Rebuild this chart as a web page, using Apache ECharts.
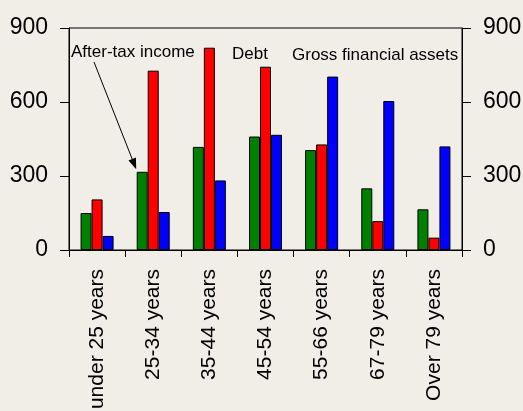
<!DOCTYPE html>
<html>
<head>
<meta charset="utf-8">
<script src="https://cdn.jsdelivr.net/npm/echarts@6/dist/echarts.min.js"></script>
<style>
html,body{margin:0;padding:0;background:#f1eee8;}
#c{width:523px;height:411px;}
</style>
</head>
<body>
<div id="c"></div>
<script>
var categories = ['under 25 years','25-34 years','35-44 years','45-54 years','55-66 years','67-79 years','Over 79 years'];
var afterTaxIncome = [150, 317, 418, 460, 405, 250, 165];
var debt = [205, 727, 820, 743, 428, 117, 50];
var grossFinancialAssets = [57, 154, 282, 467, 703, 604, 420];
var yTicks = [0, 300, 600, 900];

var FONT = '"Liberation Sans", Arial, sans-serif';
var chart = echarts.init(document.getElementById('c'), null, {renderer:'canvas'});

function yAxisDef(pos){
  return {
    type:'value', position:pos, min:yTicks[0], max:yTicks[yTicks.length-1], interval:300,
    axisLine:{show:true, lineStyle:{color:'#000', width:1}},
    axisTick:{show:true, length:9, lineStyle:{color:'#000'}},
    axisLabel:{show:true, margin:21, color:'#000', fontFamily:FONT, fontSize:23},
    splitLine:{show:false}
  };
}
function barSeries(name, data, color){
  return {
    name:name, type:'bar', data:data, barWidth:11, barGap:'0%',
    itemStyle:{color:color, borderColor:'#000', borderWidth:1},
    emphasis:{disabled:true}
  };
}

chart.setOption({
  animation:false,
  backgroundColor:'#f1eee8',
  grid:{left:69, right:61, top:28, bottom:161, outerBoundsMode:'none', containLabel:false,
        show:true, borderColor:'#000', borderWidth:1, backgroundColor:'transparent'},
  xAxis:{
    type:'category', data:categories,
    axisLine:{show:true, lineStyle:{color:'#000', width:1}},
    axisTick:{show:true, length:7, alignWithLabel:false, lineStyle:{color:'#000'}},
    axisLabel:{rotate:90, margin:19, color:'#000', fontFamily:FONT, fontSize:21, interval:0}
  },
  yAxis:[yAxisDef('left'), yAxisDef('right')],
  series:[
    barSeries('After-tax income', afterTaxIncome, '#008000'),
    barSeries('Debt', debt, '#ff0000'),
    barSeries('Gross financial assets', grossFinancialAssets, '#0000ff')
  ]
});

// annotation arrow pointing at the after-tax income bar of 25-34 years
var catPx = chart.convertToPixel({xAxisIndex:0}, categories[1]);
var tipX = catPx - 16.5 - 0.5;
var tipY = chart.convertToPixel({yAxisIndex:0}, afterTaxIncome[1]) - 2.5;
var startX = 94, startY = 62;
var dx = tipX - startX, dy = tipY - startY, len = Math.sqrt(dx*dx+dy*dy);
var ux = dx/len, uy = dy/len;
var hl = 11, hw = 4;
var bx = tipX - ux*hl, by = tipY - uy*hl;

chart.setOption({
  graphic:[
    {type:'line', shape:{x1:startX, y1:startY, x2:bx, y2:by}, style:{stroke:'#000', lineWidth:1}, silent:true},
    {type:'polygon', shape:{points:[[tipX,tipY],[bx - uy*hw, by + ux*hw],[bx + uy*hw, by - ux*hw]]}, style:{fill:'#000'}, silent:true},
    {type:'text', left:71, top:44, style:{text:'After-tax income', fill:'#000', font:'17px ' + FONT}, silent:true},
    {type:'text', left:232, top:46, style:{text:'Debt', fill:'#000', font:'17px ' + FONT}, silent:true},
    {type:'text', left:292, top:47, style:{text:'Gross financial assets', fill:'#000', font:'17px ' + FONT}, silent:true}
  ]
});
</script>
</body>
</html>
